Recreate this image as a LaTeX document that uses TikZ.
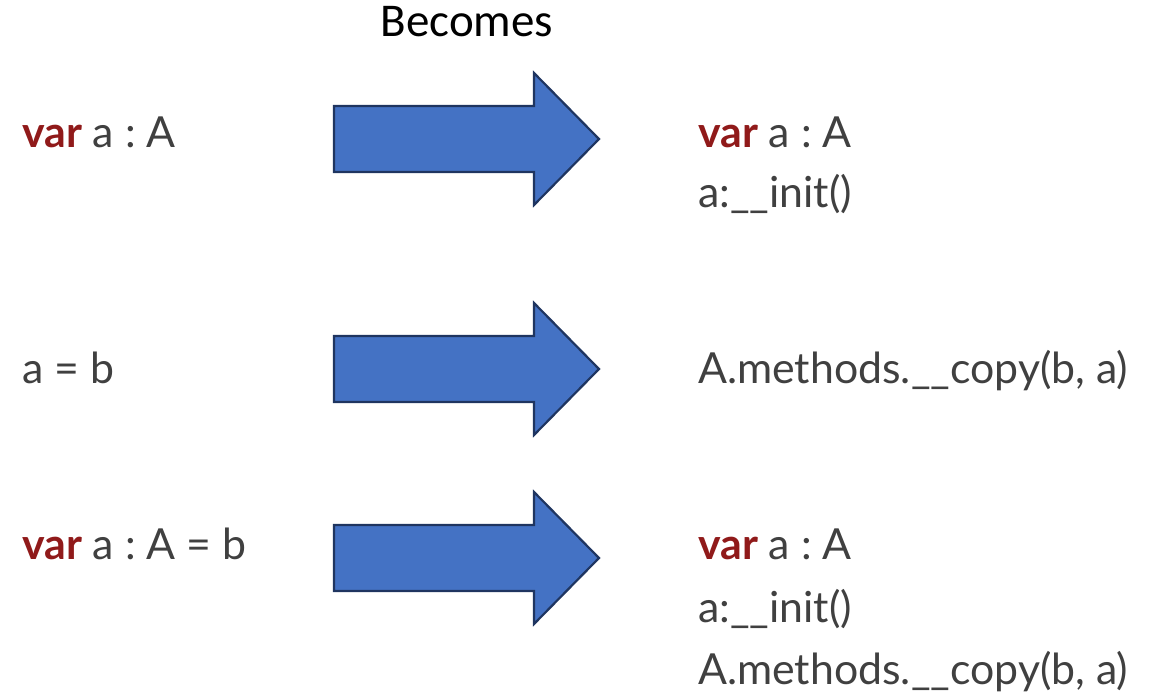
\documentclass[tikz,border=0pt]{standalone}
\usepackage{fontspec}
\setmainfont{Lato}
\newfontfamily\headfont{Carlito}
\frenchspacing
\definecolor{kw}{HTML}{901A1A}
\definecolor{txt}{HTML}{404040}
\definecolor{arrowfill}{HTML}{4472C4}
\definecolor{arrowline}{HTML}{1F3560}
\newcommand{\kwd}[1]{\textcolor{kw}{\bfseries #1}}
\tikzset{
  code/.style={anchor=base west, inner sep=0pt, text=txt, font=\fontsize{42.8}{50}\selectfont},
  bigarrow/.style={fill=arrowfill, draw=arrowline, line width=2.2pt, line join=miter},
}
\begin{document}
\begin{tikzpicture}[x=1pt, y=-1pt]
  \useasboundingbox (0,0) rectangle (1160,693);

  \node[anchor=base, inner sep=0pt, font=\headfont\fontsize{47}{52}\selectfont] (head) at (467,37) {Becomes};

  % block arrows, one per rule
  \foreach \cy/\nm in {139/arrA, 369/arrB, 558/arrC}{
    \draw[bigarrow] (334,\cy-33) -- (534,\cy-33) -- (534,\cy-66) -- (599,\cy)
      -- (534,\cy+66) -- (534,\cy+33) -- (334,\cy+33) -- cycle;
    \coordinate (\nm) at (466,\cy);
  }

  % source statements
  \node[code] (srcA) at (22,147) {\kwd{var} a : A};
  \node[code] (srcB) at (22,383) {a = b};
  \node[code] (srcC) at (22,559) {\kwd{var} a : A = b};

  % generated code
  \node[code] (dstA1) at (698,147) {\kwd{var} a : A};
  \node[code] (dstA2) at (698,207) {a:\_\_init()};
  \node[code] (dstB)  at (698,383) {A.methods.\_\_copy(b, a)};
  \node[code] (dstC1) at (698,559) {\kwd{var} a : A};
  \node[code] (dstC2) at (698,622) {a:\_\_init()};
  \node[code] (dstC3) at (698,684) {A.methods.\_\_copy(b, a)};
\end{tikzpicture}
\end{document}
